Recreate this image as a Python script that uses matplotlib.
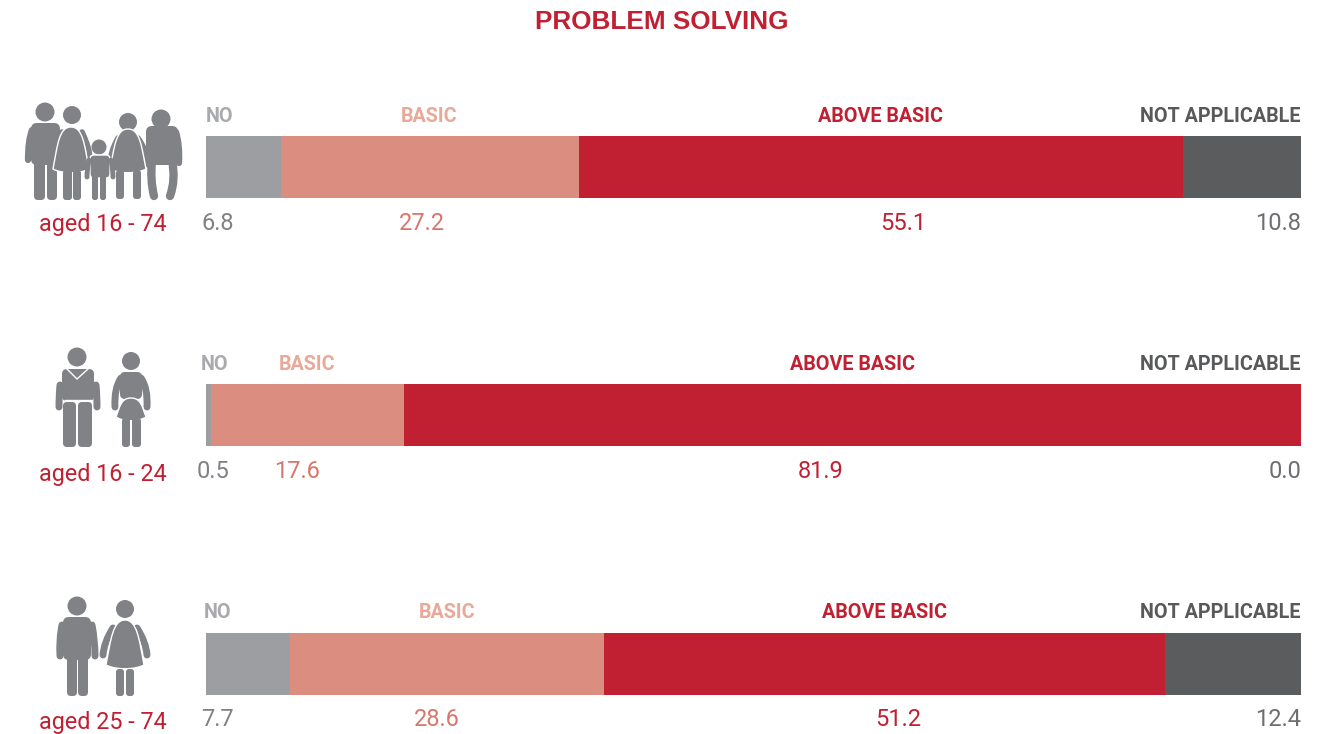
import matplotlib
matplotlib.use("Agg")
import matplotlib.pyplot as plt
from matplotlib.patches import Circle, FancyBboxPatch, PathPatch
from matplotlib.path import Path

# datos
titulo = "PROBLEM SOLVING"
categorias = ["NO", "BASIC", "ABOVE BASIC", "NOT APPLICABLE"]
grupos = ["aged 16 - 74", "aged 16 - 24", "aged 25 - 74"]
no_skills = [6.8, 0.5, 7.7]
basic = [27.2, 17.6, 28.6]
above_basic = [55.1, 81.9, 51.2]
not_applicable = [10.8, 0.0, 12.4]

# colores
colores = ["#9d9ea2", "#db8d7f", "#c12032", "#5b5c5e"]
color_etiqueta = ["#a9aaad", "#e8a999", "#c12032", "#58595b"]
color_valor = ["#808184", "#d9766b", "#c12032", "#6d6e71"]
gris = "#808285"

W, H = 1338, 734
fig = plt.figure(figsize=(W / 100, H / 100), dpi=100, facecolor="white")

# capa en pixeles para textos e iconos
capa = fig.add_axes([0, 0, 1, 1], zorder=2)
capa.set_xlim(0, W)
capa.set_ylim(H, 0)
capa.axis("off")
capa.patch.set_alpha(0)

# posiciones en pixeles: filas y textos
bar_x0, bar_x1 = 206, 1301
bar_y = [(136, 198), (384, 446), (633, 695)]
y_etiqueta = [116, 364, 613]
y_valor = [223, 471, 719]
y_grupo = [225, 474, 722]
x_etiqueta = [[220, 429, 880, 1221], [215, 307, 852, 1221], [218, 447, 884, 1221]]
x_valor = [[218, 422, 903, 1280], [213, 297, 821, 1285], [217, 437, 898, 1280]]

FUENTE = "Roboto"

capa.text(662, 22, titulo, ha="center", va="center", color="#c12032",
          fontsize=18.8, fontweight="bold", family="Liberation Sans")

series = [no_skills, basic, above_basic, not_applicable]
for i, grupo in enumerate(grupos):
    y0, y1 = bar_y[i]
    ax = fig.add_axes([bar_x0 / W, 1 - y1 / H, (bar_x1 - bar_x0) / W, (y1 - y0) / H], zorder=1)
    left = 0
    for j, s in enumerate(series):
        ax.barh(0, s[i], left=left, height=1, color=colores[j], linewidth=0)
        left += s[i]
        if j == 3:
            capa.text(1301, y_etiqueta[i], categorias[j], ha="right", va="center",
                      color=color_etiqueta[j], fontsize=14.2, fontweight="bold", family=FUENTE)
            capa.text(1301, y_valor[i], f"{s[i]:.1f}", ha="right", va="center",
                      color=color_valor[j], fontsize=17, family=FUENTE)
        else:
            capa.text(x_etiqueta[i][j], y_etiqueta[i], categorias[j], ha="center", va="center",
                      color=color_etiqueta[j], fontsize=14.2, fontweight="bold", family=FUENTE)
            capa.text(x_valor[i][j], y_valor[i], f"{s[i]:.1f}", ha="center", va="center",
                      color=color_valor[j], fontsize=17, family=FUENTE)
    # los totales redondeados dan 99.9 o 100, la barra llena siempre el ancho
    ax.set_xlim(0, left)
    ax.set_ylim(-0.5, 0.5)
    ax.axis("off")
    capa.text(103, y_grupo[i], grupo, ha="center", va="center", color="#c12032",
              fontsize=16.8, family=FUENTE)


# iconos
def cabeza(x, y, r, z=3):
    capa.add_patch(Circle((x, y), r, fc=gris, ec="none", zorder=z))


def caja(x0, y0, x1, y1, r=3, z=3, borde="none"):
    capa.add_patch(FancyBboxPatch((x0, y0), x1 - x0, y1 - y0,
                                  boxstyle=f"round,pad=0,rounding_size={r}",
                                  fc=gris, ec=borde, lw=1, zorder=z))


def vestido(xc, top, hem, ancho_sup, ancho_inf, z=3):
    medio = top + 0.4 * (hem - top)
    verts = [(xc, top),
             (xc + ancho_sup, top), (xc + ancho_inf * 0.75, medio), (xc + ancho_inf, hem - 3),
             (xc + ancho_inf * 0.5, hem + 2), (xc - ancho_inf * 0.5, hem + 2), (xc - ancho_inf, hem - 3),
             (xc - ancho_inf * 0.75, medio), (xc - ancho_sup, top), (xc, top)]
    codes = [Path.MOVETO] + [Path.CURVE4] * 9
    capa.add_patch(PathPatch(Path(verts, codes), fc=gris, ec="white", lw=1, zorder=z))


def brazo(x0, y0, x1, y1, x2, y2, ancho, z=3):
    verts = [(x0, y0), (x1, y1), (x2, y2)]
    capa.add_patch(PathPatch(Path(verts, [Path.MOVETO, Path.CURVE3, Path.CURVE3]), fc="none",
                             ec=gris, lw=ancho, capstyle="round", zorder=z))


# familia
cabeza(45, 112, 9.5)
caja(31, 123, 60, 165, 6)
brazo(32, 130, 28, 140, 28, 160, 4.5)
caja(34, 150, 45, 200, 4)
caja(47, 150, 57, 200, 4)

cabeza(161, 119, 9.5)
caja(146, 126, 178, 165, 6)
brazo(176, 132, 180, 145, 179, 163, 4.5)
brazo(152, 160, 150, 180, 154, 196, 6)
brazo(172, 160, 176, 180, 170, 196, 6)

cabeza(72, 115, 9)
brazo(62, 132, 52, 148, 50, 160, 4, z=4)
brazo(82, 132, 90, 148, 90, 160, 4, z=4)
vestido(71, 127, 172, 12, 18, z=4)
caja(63, 170, 72, 200, 3, z=4)
caja(73, 170, 81, 200, 3, z=4)

cabeza(128, 122, 9)
brazo(118, 138, 110, 152, 110, 165, 4, z=4)
brazo(138, 138, 148, 152, 148, 165, 4, z=4)
vestido(128, 129, 172, 12, 18, z=4)
caja(116, 170, 124, 199, 3, z=4)
caja(133, 170, 141, 199, 3, z=4)

cabeza(99, 147, 7.5, z=5)
caja(90, 155, 110, 178, 4, z=5, borde="white")
brazo(89, 160, 87, 170, 87, 177, 3.5, z=5)
brazo(111, 160, 113, 170, 113, 177, 3.5, z=5)
caja(92, 175, 98, 200, 2.5, z=5)
caja(100, 175, 106, 200, 2.5, z=5)

# 16 - 24
cabeza(77, 357, 9.5)
caja(62, 369, 94, 401, 5)
brazo(60, 385, 59, 395, 59, 407, 5)
brazo(96, 385, 97, 395, 97, 407, 5)
caja(63, 402, 76, 447, 4)
caja(78, 402, 92, 447, 4)
capa.plot([67, 77, 88], [369, 379, 369], color="white", lw=1, zorder=4)
capa.plot([65, 91], [400, 400], color="white", lw=1, zorder=4)

cabeza(131, 361, 9)
caja(120, 372, 142, 399, 5)
brazo(121, 378, 114, 388, 115, 407, 5)
brazo(141, 378, 148, 388, 147, 407, 5)
vestido(131, 398, 420, 10, 15)
caja(122, 418, 130, 447, 3)
caja(132, 418, 141, 447, 3)

# 25 - 74
cabeza(77, 606, 9.5)
caja(63, 617, 91, 660, 6)
brazo(62, 625, 59, 640, 60, 656, 5)
brazo(92, 625, 95, 640, 95, 656, 5)
caja(67, 650, 77, 696, 4)
caja(78, 650, 88, 696, 4)

cabeza(125, 609, 9)
brazo(113, 628, 104, 642, 103, 655, 5)
brazo(137, 628, 146, 642, 147, 655, 5)
vestido(125, 620, 668, 12, 19)
caja(116, 669, 124, 696, 3)
caja(126, 669, 134, 696, 3)

fig.savefig("out.png", dpi=100)
